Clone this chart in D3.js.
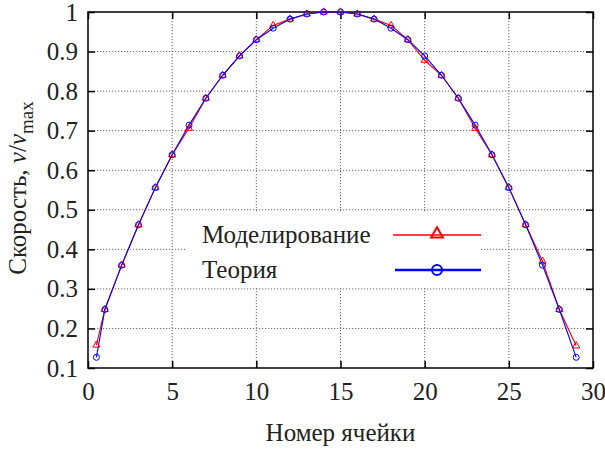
<!DOCTYPE html>
<html><head><meta charset="utf-8">
<script src="https://cdn.jsdelivr.net/npm/d3@7"></script>
<style>body{margin:0;background:#fff}svg{display:block}</style>
</head><body>
<svg id="c" width="605" height="450" font-family="Liberation Serif"></svg>
<script>
const cells = [0.5,1,2,3,4,5,6,7,8,9,10,11,12,13,14,15,16,17,18,19,20,21,22,23,24,25,26,27,28,29];
const theory = [0.127,0.248,0.36,0.462,0.556,0.639,0.714,0.782,0.84,0.889,0.93,0.959,0.982,0.995,1.0,1.0,0.995,0.982,0.959,0.93,0.889,0.84,0.782,0.714,0.639,0.556,0.462,0.36,0.248,0.127];
const model = [0.158,0.248,0.36,0.462,0.556,0.639,0.706,0.782,0.84,0.889,0.93,0.966,0.982,0.995,1.0,1.0,0.995,0.982,0.966,0.93,0.878,0.84,0.782,0.706,0.639,0.556,0.462,0.37,0.248,0.156];
const xTicks = [0,5,10,15,20,25,30];
const yTicks = [0.1,0.2,0.3,0.4,0.5,0.6,0.7,0.8,0.9,1];
const seriesNames = ["Моделирование","Теория"];

const FF = "Liberation Serif";
const FS = 25;
const svg = d3.select("#c");
const L=88,R=593,T=12,B=368;
const x = d3.scaleLinear().domain([0,30]).range([L,R]);
const y = d3.scaleLinear().domain([0.1,1]).range([B,T]);

// grid
const g = svg.append("g");
g.selectAll(".gx").data(xTicks.slice(1,-1)).enter().append("line")
 .attr("x1",d=>x(d)).attr("x2",d=>x(d)).attr("y1",T).attr("y2",B)
 .attr("stroke","#666").attr("stroke-width",1).attr("stroke-dasharray","1.2,1.8");
g.selectAll(".gy").data(yTicks.slice(1,-1)).enter().append("line")
 .attr("y1",d=>y(d)).attr("y2",d=>y(d)).attr("x1",L).attr("x2",R)
 .attr("stroke","#666").attr("stroke-width",1).attr("stroke-dasharray","1.2,1.8");

// legend background
svg.append("rect").attr("x",187).attr("y",213).attr("width",294).attr("height",75).attr("fill","#fff");

const fmt = d=> d===1?"1":d3.format(".1f")(d);
const ax = svg.append("g").attr("transform",`translate(0,${B})`).call(d3.axisBottom(x).tickValues(xTicks).tickSize(-7).tickPadding(14).tickFormat(d3.format("d")));
const axT = svg.append("g").attr("transform",`translate(0,${T})`).call(d3.axisTop(x).tickValues(xTicks).tickSize(-7).tickFormat(""));
const ay = svg.append("g").attr("transform",`translate(${L},0)`).call(d3.axisLeft(y).tickValues(yTicks).tickSize(-7).tickPadding(10).tickFormat(fmt));
const ayR = svg.append("g").attr("transform",`translate(${R},0)`).call(d3.axisRight(y).tickValues(yTicks).tickSize(-7).tickFormat(""));
[ax,axT,ay,ayR].forEach(a=>{a.attr("font-family",FF).attr("font-size",FS);a.select(".domain").remove();a.selectAll(".tick line").attr("stroke","#000").attr("stroke-width",1.5);a.selectAll("text").attr("fill","#222");});
ax.selectAll("text").attr("dy","0.71em");
svg.append("rect").attr("x",L).attr("y",T).attr("width",R-L).attr("height",B-T).attr("fill","none").attr("stroke","#000").attr("stroke-width",1.5);

// lines
const data = cells.map((c,i)=>({c,t:theory[i],m:model[i]}));
const lineM = d3.line().x(d=>x(d.c)).y(d=>y(d.m));
const lineT = d3.line().x(d=>x(d.c)).y(d=>y(d.t));
svg.append("path").datum(data).attr("d",lineM).attr("fill","none").attr("stroke","#ff0000").attr("stroke-width",1.1);
svg.append("path").datum(data).attr("d",lineT).attr("fill","none").attr("stroke","#0000ff").attr("stroke-width",1.1);
const tri = d3.symbol().type(d3.symbolTriangle).size(22);
svg.selectAll(".pm").data(data).enter().append("path").attr("d",tri)
 .attr("transform",d=>`translate(${x(d.c)},${y(d.m)})`).attr("fill","none").attr("stroke","#ff0000").attr("stroke-width",1);
svg.selectAll(".pt").data(data).enter().append("circle")
 .attr("cx",d=>x(d.c)).attr("cy",d=>y(d.t)).attr("r",3).attr("fill","none").attr("stroke","#0000ff").attr("stroke-width",1);

function txt(sel){return sel.attr("font-family",FF).attr("fill","#222").attr("font-size",FS);}
// legend
txt(svg.append("text")).attr("x",202).attr("y",243).text(seriesNames[0]);
txt(svg.append("text")).attr("x",202).attr("y",278).text(seriesNames[1]);
svg.append("line").attr("x1",393).attr("x2",481).attr("y1",235).attr("y2",235).attr("stroke","#ff0000").attr("stroke-width",1.5);
svg.append("path").attr("d",d3.symbol().type(d3.symbolTriangle).size(60)).attr("transform","translate(437,234)").attr("fill","none").attr("stroke","#ff0000").attr("stroke-width",2);
svg.append("line").attr("x1",395).attr("x2",481).attr("y1",270).attr("y2",270).attr("stroke","#0000ff").attr("stroke-width",2.5);
svg.append("circle").attr("cx",437).attr("cy",270).attr("r",5).attr("fill","none").attr("stroke","#0000ff").attr("stroke-width",2);

// axis titles
txt(svg.append("text")).attr("x",(L+R)/2).attr("y",441).attr("text-anchor","middle").text("Номер ячейки");
const yl = txt(svg.append("text")).attr("transform","translate(26,188) rotate(-90)").attr("text-anchor","middle");
yl.append("tspan").text("Скорость, ");
yl.append("tspan").attr("font-style","italic").text("v");
yl.append("tspan").text("/");
yl.append("tspan").attr("font-style","italic").text("v");
yl.append("tspan").attr("dy",7).attr("font-size",19).text("max");
</script>
</body></html>
